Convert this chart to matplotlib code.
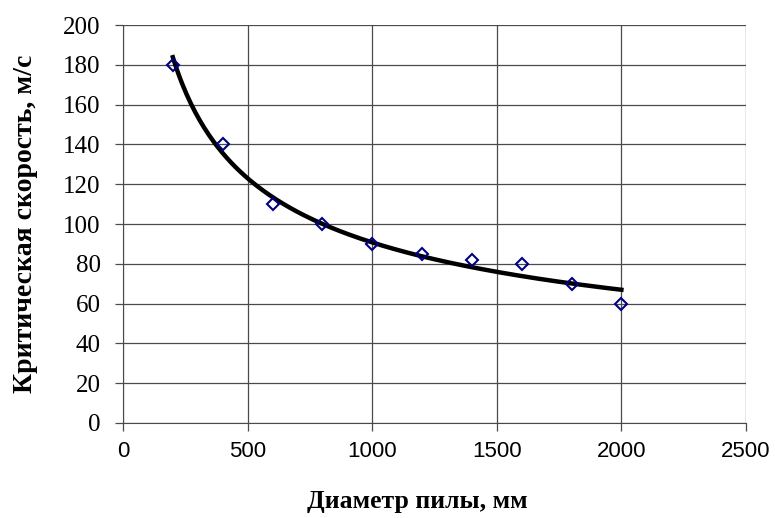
import numpy as np
import matplotlib
matplotlib.use("Agg")
import matplotlib.pyplot as plt

# diametr pily, mm / kriticheskaya skorost, m/s
diam = [200, 400, 600, 800, 1000, 1200, 1400, 1600, 1800, 2000]
speed = [180, 140, 110, 100, 90, 85, 82, 80, 70, 60]

# power trend line (like Excel) fitted in log-log
b, ln_a = np.polyfit(np.log(diam), np.log(speed), 1)
xt = np.linspace(min(diam), max(diam), 200)
yt = np.exp(ln_a) * xt ** b

fig = plt.figure(figsize=(7.75, 5.18), dpi=100)
ax = fig.add_axes([0.1587, 0.1834, 0.8039, 0.7683])

ax.plot(xt, yt, color="black", lw=3.2, zorder=3)
ax.plot(diam, speed, ls="none", marker="D", ms=6.5, mfc="none",
        mec="#000080", mew=1.5, zorder=4)

ax.set_xlim(0, 2500)
ax.set_ylim(0, 200)
ax.set_xticks(range(0, 2501, 500))
ax.set_yticks(range(0, 201, 20))
ax.grid(True, color="#4a4a4a", lw=0.9)
ax.set_axisbelow(True)
for s in ["top", "right"]:
    ax.spines[s].set_visible(False)
for s in ["left", "bottom"]:
    ax.spines[s].set_color("#4a4a4a")
ax.tick_params(direction="out", length=6, color="#4a4a4a", width=0.9)
ax.tick_params(axis="y", pad=10)
ax.tick_params(axis="x", pad=7)

for lbl in ax.get_yticklabels():
    lbl.set_fontfamily("Liberation Serif")
    lbl.set_fontsize(18)
for lbl in ax.get_xticklabels():
    lbl.set_fontfamily("Liberation Sans")
    lbl.set_fontsize(16)

ax.set_xlabel("Диаметр пилы, мм", fontfamily="Liberation Serif",
              fontweight="bold", fontsize=18.5, va="center")
ax.set_ylabel("Критическая скорость, м/с", fontfamily="Liberation Serif",
              fontweight="bold", fontsize=20, va="center")
ax.xaxis.set_label_coords(0.472, -0.198)
ax.yaxis.set_label_coords(-0.157, 0.5)

fig.savefig("out.png", dpi=100)
